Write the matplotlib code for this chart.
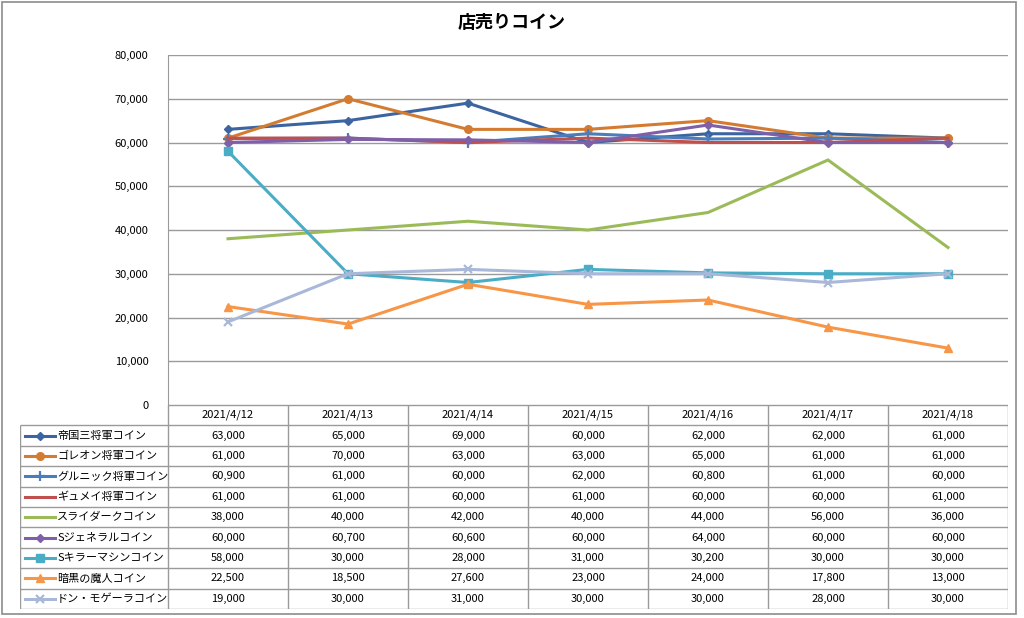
import matplotlib
matplotlib.use('Agg')
import matplotlib.pyplot as plt
from matplotlib.patches import Rectangle

plt.rcParams['font.family'] = ['Noto Sans CJK JP', 'DejaVu Sans']

dates = ['2021/4/12', '2021/4/13', '2021/4/14', '2021/4/15', '2021/4/16', '2021/4/17', '2021/4/18']
names = ['帝国三将軍コイン', 'ゴレオン将軍コイン', 'グルニック将軍コイン', 'ギュメイ将軍コイン',
         'スライダークコイン', 'Sジェネラルコイン', 'Sキラーマシンコイン', '暗黒の魔人コイン', 'ドン・モゲーラコイン']
teikoku = [63000, 65000, 69000, 60000, 62000, 62000, 61000]
goreon = [61000, 70000, 63000, 63000, 65000, 61000, 61000]
gurunikku = [60900, 61000, 60000, 62000, 60800, 61000, 60000]
gyumei = [61000, 61000, 60000, 61000, 60000, 60000, 61000]
slider = [38000, 40000, 42000, 40000, 44000, 56000, 36000]
sgeneral = [60000, 60700, 60600, 60000, 64000, 60000, 60000]
skiller = [58000, 30000, 28000, 31000, 30200, 30000, 30000]
ankoku = [22500, 18500, 27600, 23000, 24000, 17800, 13000]
don = [19000, 30000, 31000, 30000, 30000, 28000, 30000]
series = [teikoku, goreon, gurunikku, gyumei, slider, sgeneral, skiller, ankoku, don]

# style per series: colour, marker, marker size
styles = [
    ('#3B64A0', 'D', 4.5),
    ('#D47B32', 'o', 5.5),
    ('#4A7EBB', '+', 7),
    ('#C0504D', '', 0),
    ('#9BBB59', '', 0),
    ('#7F5FA8', 'D', 4.5),
    ('#4BACC6', 's', 5.5),
    ('#F79646', '^', 5.5),
    ('#A9B8D8', 'x', 6),
]

W, H = 1024, 618
fig = plt.figure(figsize=(W / 100, H / 100), dpi=100)

# outer frame
fig.patches.append(Rectangle((2 / W, 4 / H), 1014 / W, 612 / H, transform=fig.transFigure,
                             fill=False, edgecolor='#8C8C8C', linewidth=1.2))

fig.text(512 / W, 1 - 22 / H, '店売りコイン', ha='center', va='center', fontsize=13, fontweight='bold')

# plot area
L, R, T, B = 168, 1008, 55, 405
ax = fig.add_axes([L / W, 1 - B / H, (R - L) / W, (B - T) / H])
x = list(range(len(dates)))
for vals, (c, m, ms) in zip(series, styles):
    ax.plot(x, vals, color=c, linewidth=2.2, marker=m if m else None, markersize=ms,
            markeredgewidth=1.6 if m in ('+', 'x') else 1, markeredgecolor=c, markerfacecolor=c,
            solid_joinstyle='miter')
ax.set_xlim(-0.5, 6.5)
ax.set_ylim(0, 80000)
ax.set_yticks(range(0, 80001, 10000))
ax.set_yticklabels([f'{v:,}' for v in range(0, 80001, 10000)], fontsize=8)
ax.tick_params(axis='y', length=0, pad=14)
ax.set_xticks([])
ax.grid(axis='y', color='#9A9A9A', linewidth=1)
ax.set_axisbelow(True)
for s in ['top', 'right', 'bottom']:
    ax.spines[s].set_visible(False)
ax.spines['left'].set_color('#9A9A9A')

# data table below the plot
TL, TT, TB = 20, 405, 609
tax = fig.add_axes([TL / W, 1 - TB / H, (R - TL) / W, (TB - TT) / H])
x0 = -0.5 - (L - TL) / ((R - L) / 7)
tax.set_xlim(x0, 6.5)
tax.set_ylim(10, 0)
tax.axis('off')
gc = '#9A9A9A'
tax.hlines(0, -0.5, 6.5, color=gc, linewidth=1)
tax.hlines(range(1, 11), x0, 6.5, color=gc, linewidth=1)
tax.vlines([i - 0.5 for i in range(8)], 0, 10, color=gc, linewidth=1)
tax.vlines(x0, 1, 10, color=gc, linewidth=1)
for i, d in enumerate(dates):
    tax.text(i, 0.5, d, ha='center', va='center', fontsize=8)
unit = (R - L) / 7
for r, (nm, vals, (c, m, ms)) in enumerate(zip(names, series, styles), start=1):
    yc = r + 0.5
    tax.plot([x0 + 5 / unit, x0 + 35 / unit], [yc, yc], color=c, linewidth=2.2)
    if m:
        tax.plot([x0 + 20 / unit], [yc], color=c, marker=m, markersize=ms,
                 markeredgewidth=1.6 if m in ('+', 'x') else 1)
    tax.text(x0 + 37 / unit, yc, nm, ha='left', va='center', fontsize=8)
    for i, v in enumerate(vals):
        tax.text(i, yc, f'{v:,}', ha='center', va='center', fontsize=8)

fig.savefig('out.png', dpi=100)
